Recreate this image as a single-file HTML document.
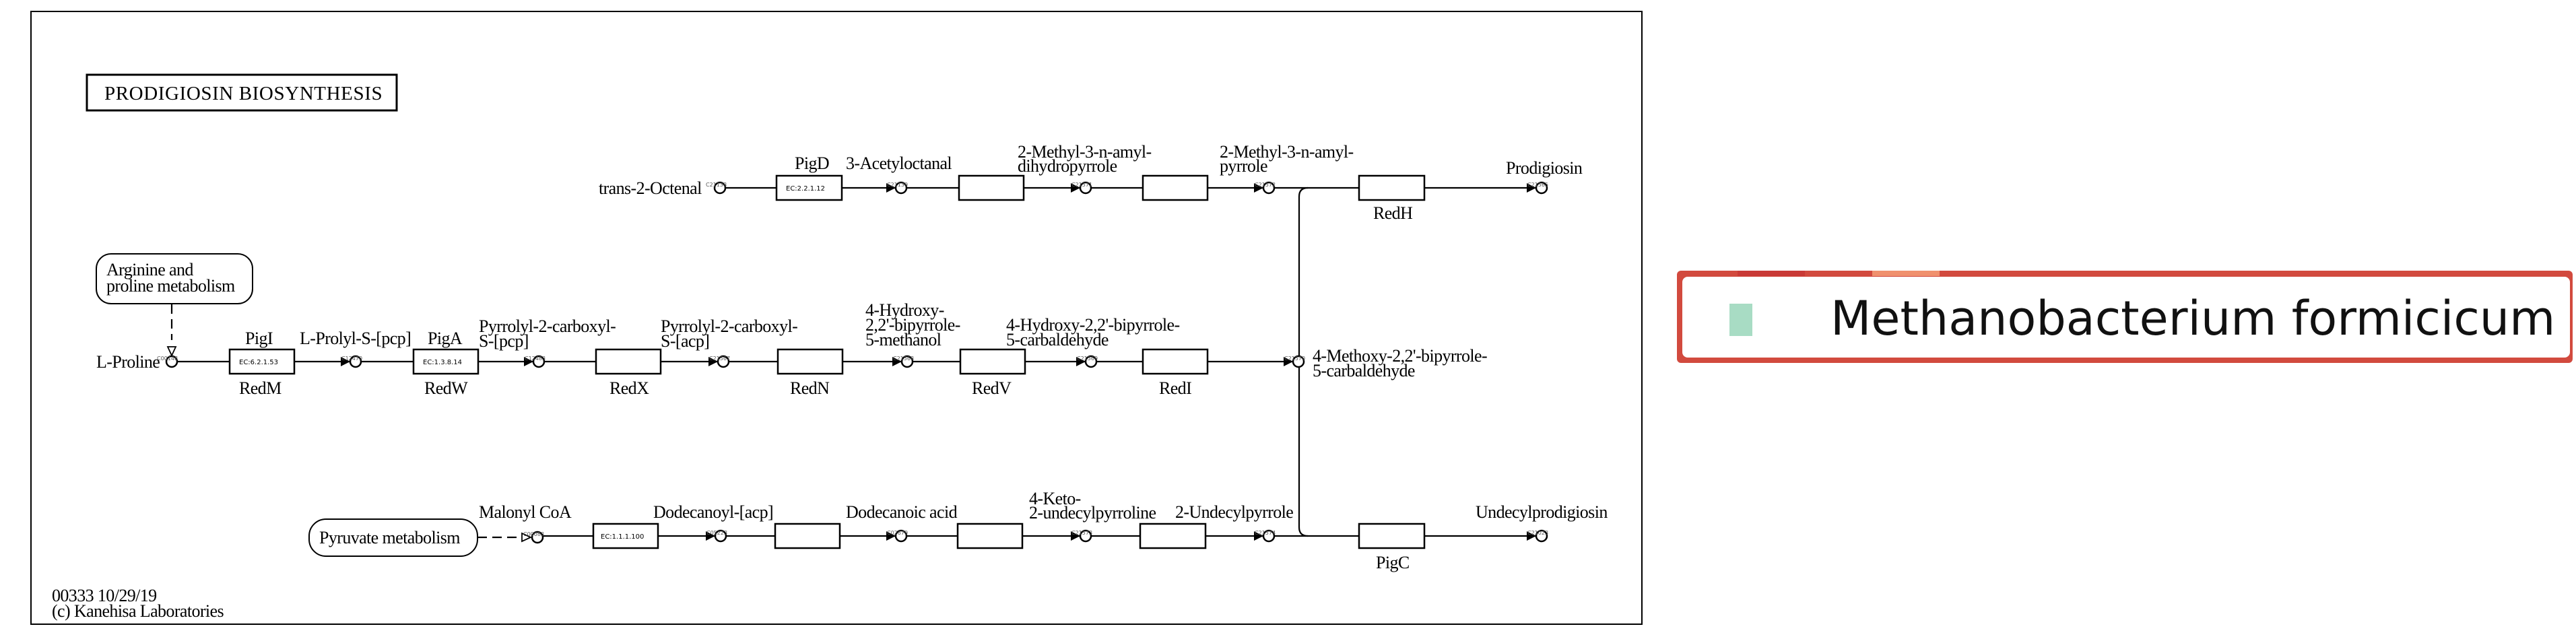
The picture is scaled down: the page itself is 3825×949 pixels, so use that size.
<!DOCTYPE html>
<html><head><meta charset="utf-8"><style>
html,body{margin:0;padding:0;background:#fff;width:3825px;height:949px;overflow:hidden}
svg{display:block}
.t{font-family:"Liberation Serif",serif;font-size:26px;fill:#000;letter-spacing:-0.6px}
.e{font-family:"DejaVu Sans","Liberation Sans",sans-serif;font-size:10px;fill:#000}
.c{font-family:"DejaVu Sans",sans-serif;font-size:8px;fill:#555}
</style></head><body>
<svg width="3825" height="949" viewBox="0 0 3825 949" xmlns="http://www.w3.org/2000/svg">
<rect x="46" y="17" width="2392" height="910" fill="#fff" stroke="#000" stroke-width="2"/>
<rect x="129" y="111" width="460" height="53" fill="#fff" stroke="#000" stroke-width="3"/>
<text class="t" x="155" y="148" style="font-size:29px;letter-spacing:0.6px">PRODIGIOSIN BIOSYNTHESIS</text>

<g stroke="#000" stroke-width="2.2" fill="none">
<line x1="1077" y1="279" x2="2281" y2="279"/>
<line x1="263" y1="537" x2="1920" y2="537"/>
<line x1="806" y1="796" x2="2281" y2="796"/>
<path d="M1942,279 Q1929,279 1929,292 L1929,783 Q1929,796 1942,796"/>
<line x1="255" y1="452" x2="255" y2="505" stroke-dasharray="14,8"/>
<line x1="709" y1="798" x2="768" y2="798" stroke-dasharray="14,8"/>
</g>
<rect x="143" y="377" width="232" height="74" rx="22" fill="#fff" stroke="#000" stroke-width="2"/>
<text class="t" x="158" y="409">Arginine and</text><text class="t" x="158" y="433">proline metabolism</text>
<rect x="459" y="771" width="250" height="55" rx="25" fill="#fff" stroke="#000" stroke-width="2"/>
<text class="t" x="474" y="807">Pyruvate metabolism</text>
<polygon points="249,515 261,515 255,528" fill="#fff" stroke="#000" stroke-width="1.8"/>
<polygon points="775,792 775,804 788,798" fill="#fff" stroke="#000" stroke-width="1.8"/>

<g fill="#fff" stroke="#000" stroke-width="2.5">
<rect x="341" y="519" width="96" height="36"/><rect x="614" y="519" width="96" height="36"/>
<rect x="885" y="519" width="96" height="36"/><rect x="1155" y="519" width="96" height="36"/>
<rect x="1426" y="519" width="96" height="36"/><rect x="1697" y="519" width="96" height="36"/>
<rect x="1153" y="261" width="97" height="36"/><rect x="1424" y="261" width="96" height="36"/>
<rect x="1697" y="261" width="96" height="36"/><rect x="2018" y="261" width="97" height="36"/>
<rect x="881" y="778" width="96" height="36"/><rect x="1151" y="778" width="96" height="36"/>
<rect x="1422" y="778" width="96" height="36"/><rect x="1693" y="778" width="97" height="36"/>
<rect x="2018" y="778" width="97" height="36"/>
</g>
<text class="e" x="355" y="541">EC:6.2.1.53</text>
<text class="e" x="628" y="541">EC:1.3.8.14</text>
<text class="e" x="1167" y="283">EC:2.2.1.12</text>
<text class="e" x="892" y="800">EC:1.1.1.100</text>

<g fill="#000">
<polygon points="506,530 520,537 506,544"/><polygon points="778,530 792,537 778,544"/>
<polygon points="1052,530 1066,537 1052,544"/><polygon points="1325,530 1339,537 1325,544"/>
<polygon points="1598,530 1612,537 1598,544"/><polygon points="1906,530 1920,537 1906,544"/>
<polygon points="1316,272 1330,279 1316,286"/><polygon points="1590,272 1604,279 1590,286"/>
<polygon points="1862,272 1876,279 1862,286"/><polygon points="2267,272 2281,279 2267,286"/>
<polygon points="1048,789 1062,796 1048,803"/><polygon points="1316,789 1330,796 1316,803"/>
<polygon points="1590,789 1604,796 1590,803"/><polygon points="1862,789 1876,796 1862,803"/>
<polygon points="2267,789 2281,796 2267,803"/>
</g>
<g fill="#fff" stroke="#000" stroke-width="2.5">
<circle cx="255" cy="537" r="8"/><circle cx="528" cy="537" r="8"/><circle cx="800" cy="537" r="8"/>
<circle cx="1074" cy="537" r="8"/><circle cx="1347" cy="537" r="8"/><circle cx="1620" cy="537" r="8"/>
<circle cx="1928" cy="537" r="8"/>
<circle cx="1069" cy="279" r="8"/><circle cx="1338" cy="279" r="8"/><circle cx="1612" cy="279" r="8"/>
<circle cx="1884" cy="279" r="8"/><circle cx="2289" cy="279" r="8"/>
<circle cx="798" cy="798" r="8"/><circle cx="1070" cy="796" r="8"/><circle cx="1338" cy="796" r="8"/>
<circle cx="1612" cy="796" r="8"/><circle cx="1884" cy="796" r="8"/><circle cx="2289" cy="796" r="8"/>
</g>
<g class="c">
<text x="233" y="535">C00148</text><text x="507" y="535">C12470</text><text x="779" y="535">C12483</text>
<text x="1053" y="535">C21567</text><text x="1326" y="535">C21568</text><text x="1599" y="535">C21569</text>
<text x="1907" y="535">C21570</text><text x="1048" y="277">C21138</text><text x="1317" y="277">C21139</text>
<text x="1591" y="277">C21571</text><text x="1863" y="277">C21572</text><text x="2268" y="277">C21565</text>
<text x="777" y="796">C00083</text><text x="1049" y="794">C05223</text><text x="1317" y="794">C02679</text>
<text x="1591" y="794">C21573</text><text x="1863" y="794">C21574</text><text x="2268" y="794">C21023</text>
</g>

<g class="t">
<text x="143" y="546">L-Proline</text>
<text x="364" y="511">PigI</text><text x="355" y="585">RedM</text>
<text x="445" y="511">L-Prolyl-S-[pcp]</text>
<text x="635" y="511">PigA</text><text x="630" y="585">RedW</text>
<text x="711" y="493">Pyrrolyl-2-carboxyl-</text><text x="711" y="515">S-[pcp]</text>
<text x="905" y="585">RedX</text>
<text x="981" y="493">Pyrrolyl-2-carboxyl-</text><text x="981" y="515">S-[acp]</text>
<text x="1173" y="585">RedN</text>
<text x="1285" y="469">4-Hydroxy-</text><text x="1285" y="491">2,2'-bipyrrole-</text><text x="1285" y="513">5-methanol</text>
<text x="1443" y="585">RedV</text>
<text x="1494" y="491">4-Hydroxy-2,2'-bipyrrole-</text><text x="1494" y="513">5-carbaldehyde</text>
<text x="1721" y="585">RedI</text>
<text x="1949" y="537">4-Methoxy-2,2'-bipyrrole-</text><text x="1949" y="559">5-carbaldehyde</text>
<text x="889" y="288">trans-2-Octenal</text>
<text x="1180" y="251">PigD</text>
<text x="1256" y="251">3-Acetyloctanal</text>
<text x="1511" y="234">2-Methyl-3-n-amyl-</text><text x="1511" y="255">dihydropyrrole</text>
<text x="1811" y="234">2-Methyl-3-n-amyl-</text><text x="1811" y="255">pyrrole</text>
<text x="2236" y="258">Prodigiosin</text>
<text x="2039" y="325">RedH</text>
<text x="711" y="769">Malonyl CoA</text>
<text x="970" y="769">Dodecanoyl-[acp]</text>
<text x="1256" y="769">Dodecanoic acid</text>
<text x="1528" y="749">4-Keto-</text><text x="1528" y="770">2-undecylpyrroline</text>
<text x="1745" y="769">2-Undecylpyrrole</text>
<text x="2191" y="769">Undecylprodigiosin</text>
<text x="2043" y="844">PigC</text>
<text x="77" y="893">00333 10/29/19</text>
<text x="77" y="916">(c) Kanehisa Laboratories</text>
</g>

<rect x="2490" y="402" width="1330" height="137" rx="6" fill="#d24a3e"/>
<rect x="2580" y="402" width="100" height="8" fill="#c93a36"/>
<rect x="2780" y="402" width="100" height="8" fill="#f0916e"/>
<rect x="2498" y="411" width="1318" height="120" rx="8" fill="#fff"/>
<rect x="2568" y="451" width="34" height="48" fill="#a8dcc4"/>
<text x="2718" y="497" style="font-family:'DejaVu Sans',sans-serif;font-size:70px;fill:#111">Methanobacterium formicicum</text>
</svg>
</body></html>
